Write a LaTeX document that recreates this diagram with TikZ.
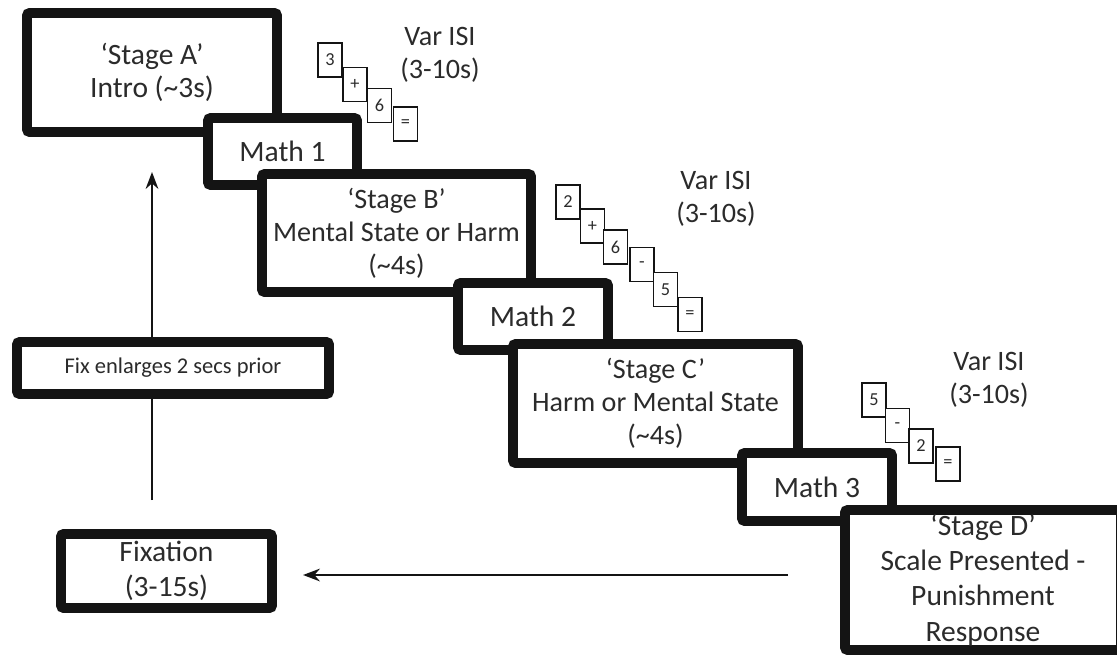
\documentclass[tikz,border=0pt]{standalone}
\usepackage{fontspec}
\setmainfont{Carlito}
\usetikzlibrary{arrows.meta}
\definecolor{inkline}{HTML}{141414}
\definecolor{inktext}{HTML}{2B2B2B}
\begin{document}
\begin{tikzpicture}[
		x=0.025cm, y=-0.025cm,
		stagebox/.style = {
			draw=inkline,
			fill=white,
			line width=7pt,
			rounded corners=2pt,
			inner sep=0pt,
			align=center,
			text=inktext
		},
		mathbox/.style = {
			stagebox,
			font=\fontsize{21}{25}\selectfont
		},
		card/.style = {
			draw=inkline,
			fill=white,
			line width=1.1pt,
			inner sep=0pt,
			minimum width=0.6cm,
			minimum height=0.85cm,
			text=inktext,
			font=\fontsize{13}{15}\selectfont
		},
		isi/.style = {
			align=center,
			text=inktext,
			font=\fontsize{20}{23.5}\selectfont
		},
		flow/.style = {
			draw=inkline,
			line width=1.8pt,
			-{Stealth[length=12pt,width=9pt]}
		}
	]
	\useasboundingbox (0,0) rectangle (1117,657);
	\coordinate (uptip)   at (152,172);
	\coordinate (upfoot)  at (152,500);
	\coordinate (backin)  at (788,575);
	\coordinate (backtip) at (303,575);
	\draw[flow] (upfoot) -- (uptip);
	\draw[flow] (backin) -- (backtip);
	\node[stagebox, minimum width=6.25cm, minimum height=2.975cm,
		font=\fontsize{21}{23}\selectfont] (stageA) at (152,72.5)
		{‘Stage A’\\Intro (\textasciitilde3s)};
	\node[mathbox, minimum width=3.725cm, minimum height=1.675cm] (math1) at (282.5,151.5) {Math 1};
	\node[stagebox, minimum width=6.725cm, minimum height=2.95cm,
		font=\fontsize{20}{23.5}\selectfont] (stageB) at (396.5,233)
		{‘Stage B’\\Mental State or Harm\\(\textasciitilde4s)};
	\node[mathbox, minimum width=3.75cm, minimum height=1.675cm] (math2) at (533,316.5) {Math 2};
	\node[stagebox, minimum width=7.125cm, minimum height=2.975cm,
		font=\fontsize{20}{23.5}\selectfont] (stageC) at (655.5,403.5)
		{‘Stage C’\\Harm or Mental State\\(\textasciitilde4s)};
	\node[mathbox, minimum width=3.75cm, minimum height=1.7cm] (math3) at (817,487) {Math 3};
	\node[stagebox, minimum width=6.9cm, minimum height=3.5cm,
		font=\fontsize{21}{25}\selectfont] (stageD) at (983,580)
		{‘Stage D’\\Scale Presented -\\Punishment\\Response};
	\node[stagebox, minimum width=7.8cm, minimum height=1.3cm,
		font=\fontsize{16}{19}\selectfont] (enlarge) at (173,368)
		{Fix enlarges 2 secs prior};
	\node[mathbox, minimum width=5.275cm, minimum height=1.85cm] (fixation) at (166.5,571)
		{Fixation\\(3-15s)};
	\node[card] (a1) at (330,60)     {3};
	\node[card] (a2) at (355,84.5)   {+};
	\node[card] (a3) at (379.5,105.5) {6};
	\node[card] (a4) at (405.5,124)  {=};
	\node[card] (b1) at (568,202)    {2};
	\node[card] (b2) at (592.5,226)  {+};
	\node[card] (b3) at (615.5,247)  {6};
	\node[card] (b4) at (642,264.5)  {-};
	\node[card] (b5) at (665.5,289.5) {5};
	\node[card] (b6) at (690,314.5)  {=};
	\node[card] (c1) at (874,400)    {5};
	\node[card] (c2) at (897.5,425.5) {-};
	\node[card] (c3) at (921,446)    {2};
	\node[card] (c4) at (948,464)    {=};
	\node[isi] (isiA) at (440,55)  {Var ISI\\(3-10s)};
	\node[isi] (isiB) at (716,199) {Var ISI\\(3-10s)};
	\node[isi] (isiC) at (989,380) {Var ISI\\(3-10s)};
\end{tikzpicture}
\end{document}
